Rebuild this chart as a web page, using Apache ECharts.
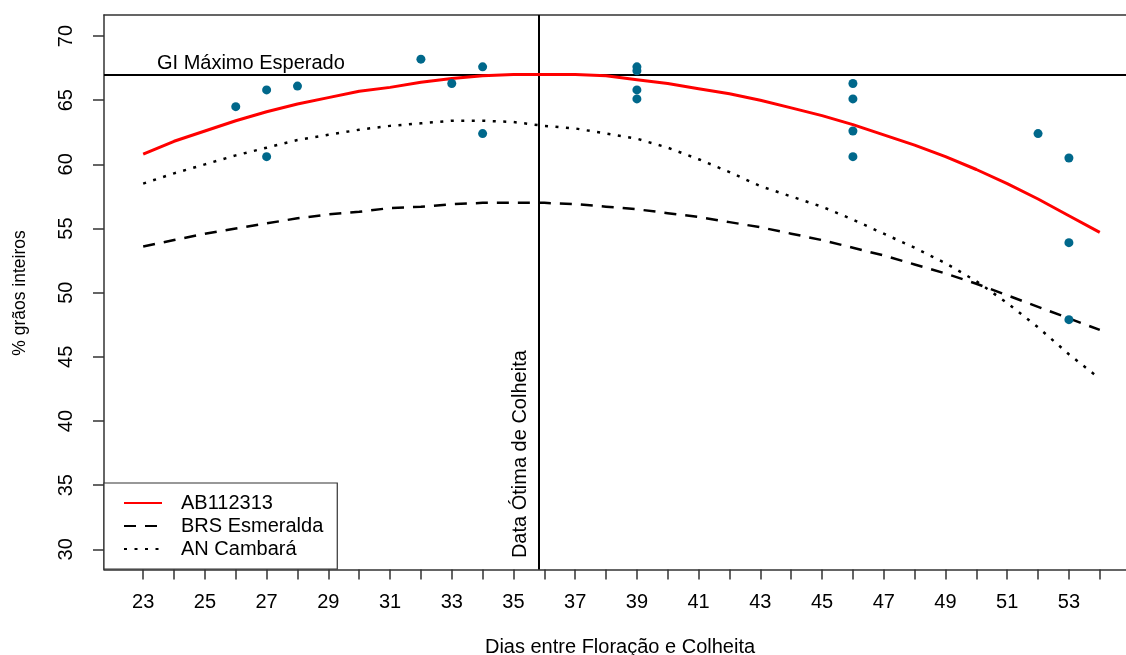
<!DOCTYPE html>
<html>
<head>
<meta charset="utf-8">
<script src="https://cdn.jsdelivr.net/npm/echarts@6/dist/echarts.min.js"></script>
<style>
html,body{margin:0;padding:0;background:#fff;}
#c{width:1126px;height:655px;}
</style>
</head>
<body>
<div id="c"></div>
<script>
// ---- data ----
const days = [23,24,25,26,27,28,29,30,31,32,33,34,35,36,37,38,39,40,41,42,43,44,45,46,47,48,49,50,51,52,53,54];
const ab112313 = [60.8,61.8,62.6,63.4,64.1,64.7,65.2,65.7,66.0,66.4,66.7,66.9,67.0,67.0,67.0,66.9,66.6,66.3,65.9,65.5,65.0,64.4,63.8,63.1,62.3,61.5,60.6,59.6,58.5,57.3,56.0,54.7];
const brsEsmeralda = [53.6,54.1,54.6,55.0,55.4,55.8,56.1,56.3,56.6,56.7,56.9,57.0,57.0,57.0,56.9,56.7,56.5,56.2,55.9,55.5,55.1,54.6,54.1,53.5,52.9,52.2,51.5,50.7,49.8,48.9,48.0,47.1];
const anCambara = [58.5,59.3,60.0,60.7,61.3,61.9,62.3,62.7,63.0,63.2,63.4,63.4,63.3,63.0,62.8,62.4,62.0,61.3,60.4,59.4,58.3,57.5,56.7,55.7,54.6,53.5,52.3,50.9,49.2,47.3,45.2,43.3];
const obsDays   = [26,27,27,28,32,33,34,34,39,39,39,39,46,46,46,46,52,53,53,53];
const obsValues = [64.5,65.8,60.6,66.1,68.2,66.3,67.6,62.4,67.6,67.3,65.8,65.1,66.3,65.1,62.6,60.6,62.4,60.5,53.9,47.9];
const xTickValues = [23,24,25,26,27,28,29,30,31,32,33,34,35,36,37,38,39,40,41,42,43,44,45,46,47,48,49,50,51,52,53,54];
const xLabelValues = [23,25,27,29,31,33,35,37,39,41,43,45,47,49,51,53];
const yTickValues = [30,35,40,45,50,55,60,65,70];
const giMaximo = 67;
const dataOtima = 35.81;
const seriesNames = ['AB112313','BRS Esmeralda','AN Cambará'];

const FONT = "'Liberation Sans', Arial, sans-serif";
const chart = echarts.init(document.getElementById('c'), null, {renderer:'canvas'});

function pairs(xs, ys){ return xs.map((x,i)=>[x, ys[i]]); }

const X_MIN = 21.73, X_MAX = 54.85;
const option = {
  animation:false,
  backgroundColor:'#fff',
  textStyle:{fontFamily:FONT},
  grid:{left:104, top:15, right:0, bottom:85.5, show:false, containLabel:false},
  xAxis:[{
    type:'value', min:X_MIN, max:X_MAX,
    axisLine:{show:true, onZero:false, lineStyle:{color:'#333', width:1.5}},
    axisTick:{show:true, inside:false, length:10, customValues:xTickValues, lineStyle:{color:'#333', width:1.5}},
    axisLabel:{show:true, customValues:xLabelValues, fontSize:20, color:'#000', margin:23, fontFamily:FONT},
    splitLine:{show:false}
  },{
    type:'value', position:'top', min:X_MIN, max:X_MAX,
    axisLine:{show:true, onZero:false, lineStyle:{color:'#333', width:1.5}},
    axisTick:{show:false}, axisLabel:{show:false}, splitLine:{show:false}
  }],
  yAxis:{
    type:'value', min:28.43, max:71.64,
    axisLine:{show:true, onZero:false, lineStyle:{color:'#333', width:1.5}},
    axisTick:{show:true, inside:false, length:11, customValues:yTickValues, lineStyle:{color:'#333', width:1.5}},
    axisLabel:{show:true, customValues:yTickValues, fontSize:20, color:'#000', rotate:90, margin:28, fontFamily:FONT},
    splitLine:{show:false}
  },
  legend:{
    data:seriesNames,
    orient:'vertical', left:104, top:483,
    padding:[10,14,10,19],
    itemWidth:38, itemHeight:14, itemGap:3,
    backgroundColor:'#fff', borderColor:'#333', borderWidth:1.2, borderRadius:0,
    itemStyle:{opacity:0},
    textStyle:{fontSize:20, lineHeight:20, color:'#000', fontFamily:FONT, padding:[0,0,0,14]}
  },
  series:[
    {name:seriesNames[0], type:'line', data:pairs(days, ab112313), symbol:'none', smooth:false,
     lineStyle:{color:'#ff0000', width:3}, itemStyle:{color:'#ff0000'}, z:5,
     markLine:{silent:true, symbol:'none', label:{show:false},
       lineStyle:{color:'#000', width:2, type:'solid'},
       data:[{yAxis:giMaximo},{xAxis:dataOtima}]}},
    {name:seriesNames[1], type:'line', data:pairs(days, brsEsmeralda), symbol:'none', smooth:false,
     lineStyle:{color:'#000', width:2.5, type:[12,9]}, itemStyle:{color:'#000'}, z:4},
    {name:seriesNames[2], type:'line', data:pairs(days, anCambara), symbol:'none', smooth:false,
     lineStyle:{color:'#000', width:2.5, type:[3,7.5]}, itemStyle:{color:'#000'}, z:4},
    {name:'obs', type:'scatter', data:pairs(obsDays, obsValues), symbol:'circle', symbolSize:9,
     itemStyle:{color:'#00688B', opacity:1}, z:6}
  ]
};
chart.setOption(option);

const pGi = chart.convertToPixel({xAxisIndex:0, yAxisIndex:0}, [26.49, 67.9]);
const pOt = chart.convertToPixel({xAxisIndex:0, yAxisIndex:0}, [35.23, 37.42]);
chart.setOption({
  graphic:[
    {type:'text', x:pGi[0], y:pGi[1], style:{text:'GI Máximo Esperado', font:'20px '+FONT, fill:'#000', align:'center', verticalAlign:'middle'}, z:10},
    {type:'text', x:pOt[0], y:pOt[1], rotation:Math.PI/2, style:{text:'Data Ótima de Colheita', font:'20px '+FONT, fill:'#000', align:'center', verticalAlign:'middle'}, z:10},
    {type:'text', x:20, y:293, rotation:Math.PI/2, style:{text:'% grãos inteiros', font:'17.5px '+FONT, fill:'#000', align:'center', verticalAlign:'middle'}, z:10},
    {type:'text', x:620, y:647, style:{text:'Dias entre Floração e Colheita', font:'20px '+FONT, fill:'#000', align:'center', verticalAlign:'middle'}, z:10}
  ]
});
</script>
</body>
</html>
